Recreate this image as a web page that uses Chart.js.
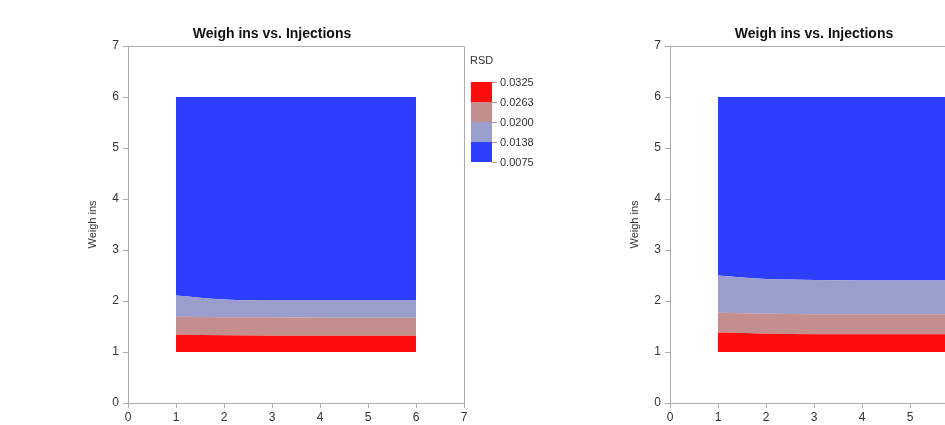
<!DOCTYPE html>
<html>
<head>
<meta charset="utf-8">
<script src="https://cdn.jsdelivr.net/npm/chart.js@4/dist/chart.umd.min.js"></script>
<style>
  html, body { margin: 0; padding: 0; background: #fff; overflow: hidden; width: 945px; height: 425px; }
  canvas { position: absolute; top: 0; }
  #left { left: 0; }
  #right { left: 542px; }
</style>
</head>
<body>
<canvas id="left" width="542" height="425"></canvas>
<canvas id="right" width="542" height="425"></canvas>
<script>
// Injections (x) grid where the contour boundaries are sampled
const injections = [1, 2, 3, 4, 5, 6];
const xTicks = [0, 1, 2, 3, 4, 5, 6, 7];
const yTicks = [0, 1, 2, 3, 4, 5, 6, 7];

// Lower edge of the surface (Weigh ins = 1)
const weighInsBase = [1, 1, 1, 1, 1, 1];

// Left panel: upper edge of each RSD band
const leftRedTop      = [1.34, 1.33, 1.32, 1.32, 1.32, 1.32];
const leftPinkTop     = [1.69, 1.68, 1.68, 1.67, 1.67, 1.67];
const leftLavenderTop = [2.11, 2.03, 2.01, 2.01, 2.01, 2.01];
const leftBlueTop     = [6, 6, 6, 6, 6, 6];

// Right panel: upper edge of each RSD band
const rightRedTop      = [1.38, 1.36, 1.35, 1.35, 1.35, 1.35];
const rightPinkTop     = [1.77, 1.75, 1.74, 1.74, 1.74, 1.74];
const rightLavenderTop = [2.50, 2.43, 2.41, 2.40, 2.40, 2.40];
const rightBlueTop     = [6, 6, 6, 6, 6, 6];

// RSD colour key, top (high) to bottom (low)
const rsdLevels = ['0.0325', '0.0263', '0.0200', '0.0138', '0.0075'];
const bandColors = ['#ff0d0d', '#c48e8e', '#999ecc', '#2e3eff'];

const chartTitle = 'Weigh ins vs. Injections';
const yTitle = 'Weigh ins';
const legendTitle = 'RSD';

const axisGray = '#ababab';
const textColor = '#333333';
const FONT = '"Liberation Sans", "DejaVu Sans", sans-serif';

function pts(ys) {
  return injections.map((x, i) => ({ x: x, y: ys[i] }));
}

function band(ys, color, label) {
  return {
    label: label,
    data: pts(ys),
    fill: '-1',
    backgroundColor: color,
    borderWidth: 0,
    pointRadius: 0,
    cubicInterpolationMode: 'monotone'
  };
}

const framePlugin = {
  id: 'frame',
  afterDraw(chart) {
    const { ctx, chartArea: a } = chart;
    ctx.save();
    ctx.strokeStyle = axisGray;
    ctx.lineWidth = 1;
    ctx.beginPath();
    ctx.moveTo(a.left, a.top + 0.5);
    ctx.lineTo(a.right + 0.5, a.top + 0.5);
    ctx.lineTo(a.right + 0.5, a.bottom);
    ctx.stroke();

    // title
    ctx.fillStyle = '#111';
    ctx.font = 'bold 14px ' + FONT;
    ctx.textAlign = 'center';
    ctx.textBaseline = 'middle';
    ctx.fillText(chartTitle, a.left + 144, 34);

    // RSD colour key
    const kx = a.right + 7, ky = 82, kw = 21, kh = 20;
    ctx.font = '11px ' + FONT;
    ctx.textAlign = 'left';
    ctx.fillStyle = textColor;
    ctx.fillText(legendTitle, kx - 1, 61);
    bandColors.forEach((c, i) => {
      ctx.fillStyle = c;
      ctx.fillRect(kx, ky + i * kh, kw, kh);
    });
    ctx.strokeStyle = '#c48e8e';
    rsdLevels.forEach((lab, i) => {
      const y = ky + i * kh;
      ctx.beginPath();
      ctx.moveTo(kx + kw, y + 0.5);
      ctx.lineTo(kx + kw + 5, y + 0.5);
      ctx.stroke();
      ctx.fillStyle = textColor;
      ctx.fillText(lab, kx + kw + 8, y + 1);
    });
    ctx.restore();
  }
};

function makeChart(id, redTop, pinkTop, lavTop, blueTop) {
  return new Chart(document.getElementById(id), {
    type: 'line',
    data: {
      datasets: [
        { label: 'base', data: pts(weighInsBase), borderWidth: 0, pointRadius: 0, fill: false },
        band(redTop, bandColors[0], rsdLevels[0]),
        band(pinkTop, bandColors[1], rsdLevels[1]),
        band(lavTop, bandColors[2], rsdLevels[2]),
        band(blueTop, bandColors[3], rsdLevels[3])
      ]
    },
    options: {
      responsive: false,
      devicePixelRatio: 1,
      animation: false,
      layout: { padding: { left: 80, top: 46, right: 78, bottom: 0 } },
      plugins: { legend: { display: false }, title: { display: false }, tooltip: { enabled: false } },
      scales: {
        x: {
          type: 'linear', min: 0, max: 7,
          afterBuildTicks(s) { s.ticks = xTicks.map(v => ({ value: v })); },
          afterFit(s) { s.height = 22; },
          grid: { drawOnChartArea: false, drawTicks: true, tickLength: 5, color: axisGray },
          border: { display: true, color: axisGray },
          ticks: { color: textColor, font: { family: FONT, size: 12 }, padding: 2, maxRotation: 0 }
        },
        y: {
          type: 'linear', min: 0, max: 7,
          afterBuildTicks(s) { s.ticks = yTicks.map(v => ({ value: v })); },
          afterFit(s) { s.width = 48; },
          grid: { drawOnChartArea: false, drawTicks: true, tickLength: 5, color: axisGray },
          border: { display: true, color: axisGray },
          ticks: { color: textColor, font: { family: FONT, size: 12 }, padding: 4 },
          title: { display: true, text: yTitle, color: textColor, font: { family: FONT, size: 11 }, padding: { top: 6, bottom: 0 } }
        }
      }
    },
    plugins: [framePlugin]
  });
}

makeChart('left', leftRedTop, leftPinkTop, leftLavenderTop, leftBlueTop);
makeChart('right', rightRedTop, rightPinkTop, rightLavenderTop, rightBlueTop);
</script>
</body>
</html>
